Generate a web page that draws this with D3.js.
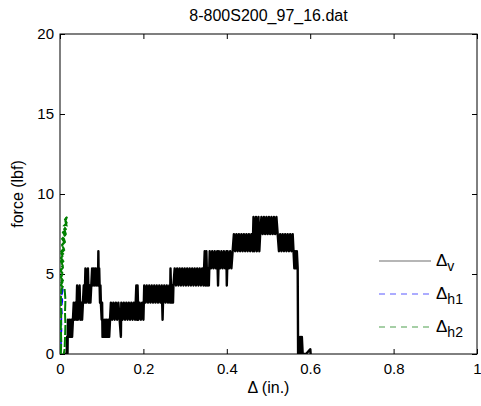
<!DOCTYPE html>
<html><head><meta charset="utf-8">
<script src="https://cdn.jsdelivr.net/npm/d3@7/dist/d3.min.js"></script>
<style>
body{margin:0;background:#fff}
text{font-family:Arial,"Liberation Sans",sans-serif;fill:#000}
</style>
</head><body>
<svg id="chart" width="481" height="406"></svg>
<script>
const chartTitle = "8-800S200_97_16.dat";
const xLabel = "Δ (in.)";
const yLabel = "force (lbf)";
const xTicks = [0, 0.2, 0.4, 0.6, 0.8, 1];
const yTicks = [0, 5, 10, 15, 20];

// Δv trace (in., lbf)
const deltaV = [
[0.010,0],[0.016,0],[0.017,1.07],[0.018,0.05],[0.019,2.14],
[0.021,1.07],[0.023,2.14],[0.025,1.07],[0.027,2.14],[0.029,1.07],[0.031,2.14],
[0.033,3.21],[0.035,2.14],[0.037,3.21],[0.039,2.14],[0.041,4.28],[0.043,2.14],[0.045,3.21],[0.047,4.28],[0.049,2.14],[0.051,3.21],[0.053,2.14],[0.055,3.21],
[0.057,4.28],[0.059,3.21],[0.061,5.35],[0.063,3.21],[0.065,4.28],[0.067,5.35],[0.069,3.21],[0.071,4.28],[0.073,3.21],[0.075,4.28],
[0.077,5.35],[0.079,4.28],[0.081,5.35],[0.083,4.28],[0.085,5.35],[0.087,4.28],[0.089,5.35],[0.091,4.28],[0.092,6.42],[0.093,4.28],[0.094,5.35],
[0.095,4.28],[0.096,3.21],[0.097,4.28],[0.098,3.21],[0.100,2.14],[0.101,3.21],[0.102,1.07],
[0.104,2.14],[0.106,1.07],[0.108,2.14],[0.110,1.07],[0.112,2.14],[0.114,1.07],[0.116,2.14],[0.118,1.07],[0.120,2.14],
[0.122,3.21],[0.125,2.14],[0.128,3.21],[0.131,2.14],[0.134,3.21],[0.137,2.14],[0.140,3.21],[0.143,2.14],[0.146,1.07],[0.147,3.21],[0.150,2.14],[0.153,3.21],[0.156,2.14],[0.159,3.21],[0.162,2.14],[0.165,3.21],[0.168,2.14],[0.171,3.21],[0.174,2.14],[0.177,3.21],[0.180,2.14],[0.183,4.28],[0.185,2.14],[0.186,4.28],[0.188,2.14],[0.191,3.21],[0.194,2.14],[0.197,3.21],[0.200,2.14],
[0.202,4.28],[0.205,3.21],[0.208,4.28],[0.211,3.21],[0.214,4.28],[0.217,3.21],[0.220,4.28],[0.223,3.21],[0.226,4.28],[0.229,3.21],[0.232,4.28],[0.235,3.21],[0.238,4.28],[0.241,3.21],[0.244,4.28],[0.246,2.14],[0.247,3.21],[0.250,4.28],[0.253,3.21],[0.256,4.28],[0.259,3.21],[0.262,4.28],[0.264,3.21],[0.265,5.35],[0.267,3.21],[0.269,4.28],[0.271,3.21],[0.272,4.28],
[0.275,5.35],[0.278,4.28],[0.281,5.35],[0.284,4.28],[0.287,5.35],[0.290,4.28],[0.293,5.35],[0.296,4.28],[0.299,5.35],[0.302,4.28],[0.305,5.35],[0.308,4.28],[0.311,5.35],[0.314,4.28],[0.317,5.35],[0.320,4.28],[0.323,5.35],[0.326,4.28],[0.329,5.35],[0.332,4.28],[0.335,5.35],[0.338,4.28],[0.341,5.35],[0.344,4.28],[0.347,6.42],[0.349,4.28],[0.351,6.42],[0.353,4.28],[0.355,5.35],[0.357,4.28],[0.359,6.42],
[0.362,5.35],[0.365,6.42],[0.368,5.35],[0.371,6.42],[0.374,5.35],[0.377,6.42],[0.379,4.28],[0.381,6.42],[0.384,5.35],[0.387,6.42],[0.390,5.35],[0.393,6.42],[0.396,5.35],[0.399,6.42],[0.400,4.28],[0.402,6.42],[0.405,5.35],[0.408,6.42],[0.411,5.35],[0.414,6.42],
[0.417,7.49],[0.420,6.42],[0.423,7.49],[0.426,6.42],[0.429,7.49],[0.432,6.42],[0.435,7.49],[0.438,6.42],[0.441,7.49],[0.444,6.42],[0.447,7.49],[0.450,6.42],[0.453,7.49],[0.456,6.42],[0.459,7.49],[0.462,6.42],[0.464,8.56],[0.466,6.42],[0.468,7.49],[0.470,8.56],[0.472,6.42],[0.474,7.49],[0.476,8.56],[0.478,6.42],[0.480,7.49],
[0.483,8.56],[0.486,7.49],[0.489,8.56],[0.492,7.49],[0.495,8.56],[0.498,7.49],[0.501,8.56],[0.504,7.49],[0.507,8.56],[0.510,7.49],[0.513,8.56],[0.516,7.49],[0.519,8.56],[0.522,7.49],
[0.525,6.42],[0.528,7.49],[0.531,6.42],[0.534,7.49],[0.537,6.42],[0.540,7.49],[0.543,6.42],[0.546,7.49],[0.549,6.42],[0.552,7.49],[0.555,6.42],[0.558,7.49],
[0.560,6.42],[0.562,5.35],[0.564,6.42],[0.566,5.35],[0.568,6.42],[0.570,5.35],
[0.571,0],[0.572,1.07],[0.574,0],[0.576,1.07],[0.578,0],[0.580,1.07],[0.582,0],
[0.590,0],[0.600,0.3],[0.601,0]
];

// Δh1 trace
const deltaH1 = [
[0.001,0],[0.003,0.5],[0.002,1.0],[0.004,1.5],[0.003,2.0],[0.005,2.5],[0.004,3.0],[0.006,3.3],[0.005,3.7],[0.007,4.0],[0.006,4.2],[0.004,3.6],[0.005,3.0],[0.003,2.4],[0.004,1.8],[0.002,1.2],[0.003,0.6],[0.001,0.1]
];

// Δh2 trace
const deltaH2 = [
[0.002,0],[0.003,0.8],[0.002,1.6],[0.003,2.4],[0.002,3.2],[0.003,4.0],
[0.006,4.2],[0.001,4.4],[0.007,4.6],[0.002,4.8],[0.008,5.0],[0.001,5.2],[0.007,5.4],[0.002,5.6],[0.008,5.8],[0.002,6.0],[0.009,6.2],[0.003,6.4],[0.009,6.6],[0.004,6.8],[0.010,7.0],[0.005,7.2],[0.012,7.4],[0.007,7.6],[0.014,7.8],[0.009,8.0],[0.016,8.2],[0.012,8.4],[0.017,8.6],[0.013,8.3],
[0.016,8.0],[0.010,7.8],[0.014,7.5],[0.008,7.3],[0.012,7.0],[0.005,6.8],[0.010,6.5],[0.003,6.3],[0.008,6.0],[0.002,5.8],[0.007,5.5],[0.001,5.3],[0.006,5.0],[0.001,4.8],[0.006,4.5],[0.002,4.3],[0.011,4.1],
[0.013,3.4],[0.012,2.6],[0.013,1.8],[0.012,1.0],[0.011,0.3],[0.009,0]
];

const legendNames = [["Δ","v"],["Δ","h1"],["Δ","h2"]];
const lineColors = ["#000000","#0000ff","#008000"];
const legendColors = ["#6e6e6e","#5a5aff","#4f9f4f"];

const svg = d3.select("#chart");
const L = 60, R = 477, T = 34, B = 354;
const x = d3.scaleLinear().domain([0,1]).range([L,R]);
const y = d3.scaleLinear().domain([0,20]).range([B,T]);

svg.append("defs").append("clipPath").attr("id","clip")
  .append("rect").attr("x",L).attr("y",T).attr("width",R-L).attr("height",B-T);

const fs = "15px";
const fsLabel = "16px";
const gx = svg.append("g").attr("transform",`translate(0,${B})`)
  .call(d3.axisBottom(x).tickValues(xTicks).tickSizeInner(-5).tickSizeOuter(0).tickPadding(9).tickFormat(d3.format("")));
const gy = svg.append("g").attr("transform",`translate(${L},0)`)
  .call(d3.axisLeft(y).tickValues(yTicks).tickSizeInner(-5).tickSizeOuter(0).tickPadding(6));
const gt = svg.append("g").attr("transform",`translate(0,${T})`)
  .call(d3.axisTop(x).tickValues(xTicks).tickSizeInner(-5).tickSizeOuter(0).tickFormat(""));
const gr = svg.append("g").attr("transform",`translate(${R},0)`)
  .call(d3.axisRight(y).tickValues(yTicks).tickSizeInner(-5).tickSizeOuter(0).tickFormat(""));
[gx,gy,gt,gr].forEach(g=>{
  g.select(".domain").remove();
  g.selectAll("line").attr("stroke","#000");
  g.selectAll("text").style("font-size",fs).attr("fill","#000").style("font-family","Arial, 'Liberation Sans', sans-serif");
});
svg.append("rect").attr("x",L).attr("y",T).attr("width",R-L).attr("height",B-T)
  .attr("fill","none").attr("stroke","#000").attr("stroke-width",1);

const line = d3.line().x(d=>x(d[0])).y(d=>y(d[1]));
const plot = svg.append("g").attr("clip-path","url(#clip)");
plot.append("path").datum(deltaV).attr("d",line).attr("fill","none").attr("stroke",lineColors[0]).attr("stroke-width",2.4).attr("stroke-linejoin","round").attr("stroke-linecap","round");
plot.append("path").datum(deltaH1).attr("d",line).attr("fill","none").attr("stroke",lineColors[1]).attr("stroke-width",1.3).attr("stroke-dasharray","6,4");
plot.append("path").datum(deltaH2).attr("d",line).attr("fill","none").attr("stroke",lineColors[2]).attr("stroke-width",2).attr("stroke-dasharray","10,2");

svg.append("text").attr("x",(L+R)/2).attr("y",21).attr("text-anchor","middle").style("font-size",fsLabel).text(chartTitle);
svg.append("text").attr("x",(L+R)/2).attr("y",393).attr("text-anchor","middle").style("font-size",fsLabel).text(xLabel);
svg.append("text").attr("transform",`translate(23,${(T+B)/2}) rotate(-90)`).attr("text-anchor","middle").style("font-size",fsLabel).text(yLabel);

// legend
const legY = [261,294,327];
legendNames.forEach((n,i)=>{
  svg.append("line").attr("x1",379).attr("x2",431).attr("y1",legY[i]).attr("y2",legY[i])
    .attr("stroke",legendColors[i]).attr("stroke-width",1.2)
    .attr("stroke-dasharray", i===0 ? null : "6,5");
  const t = svg.append("text").attr("x",436).attr("y",legY[i]+5).style("font-size","17px");
  t.append("tspan").text(n[0]);
  t.append("tspan").attr("dy",5).style("font-size","14px").text(n[1]);
});
</script>
</body></html>
